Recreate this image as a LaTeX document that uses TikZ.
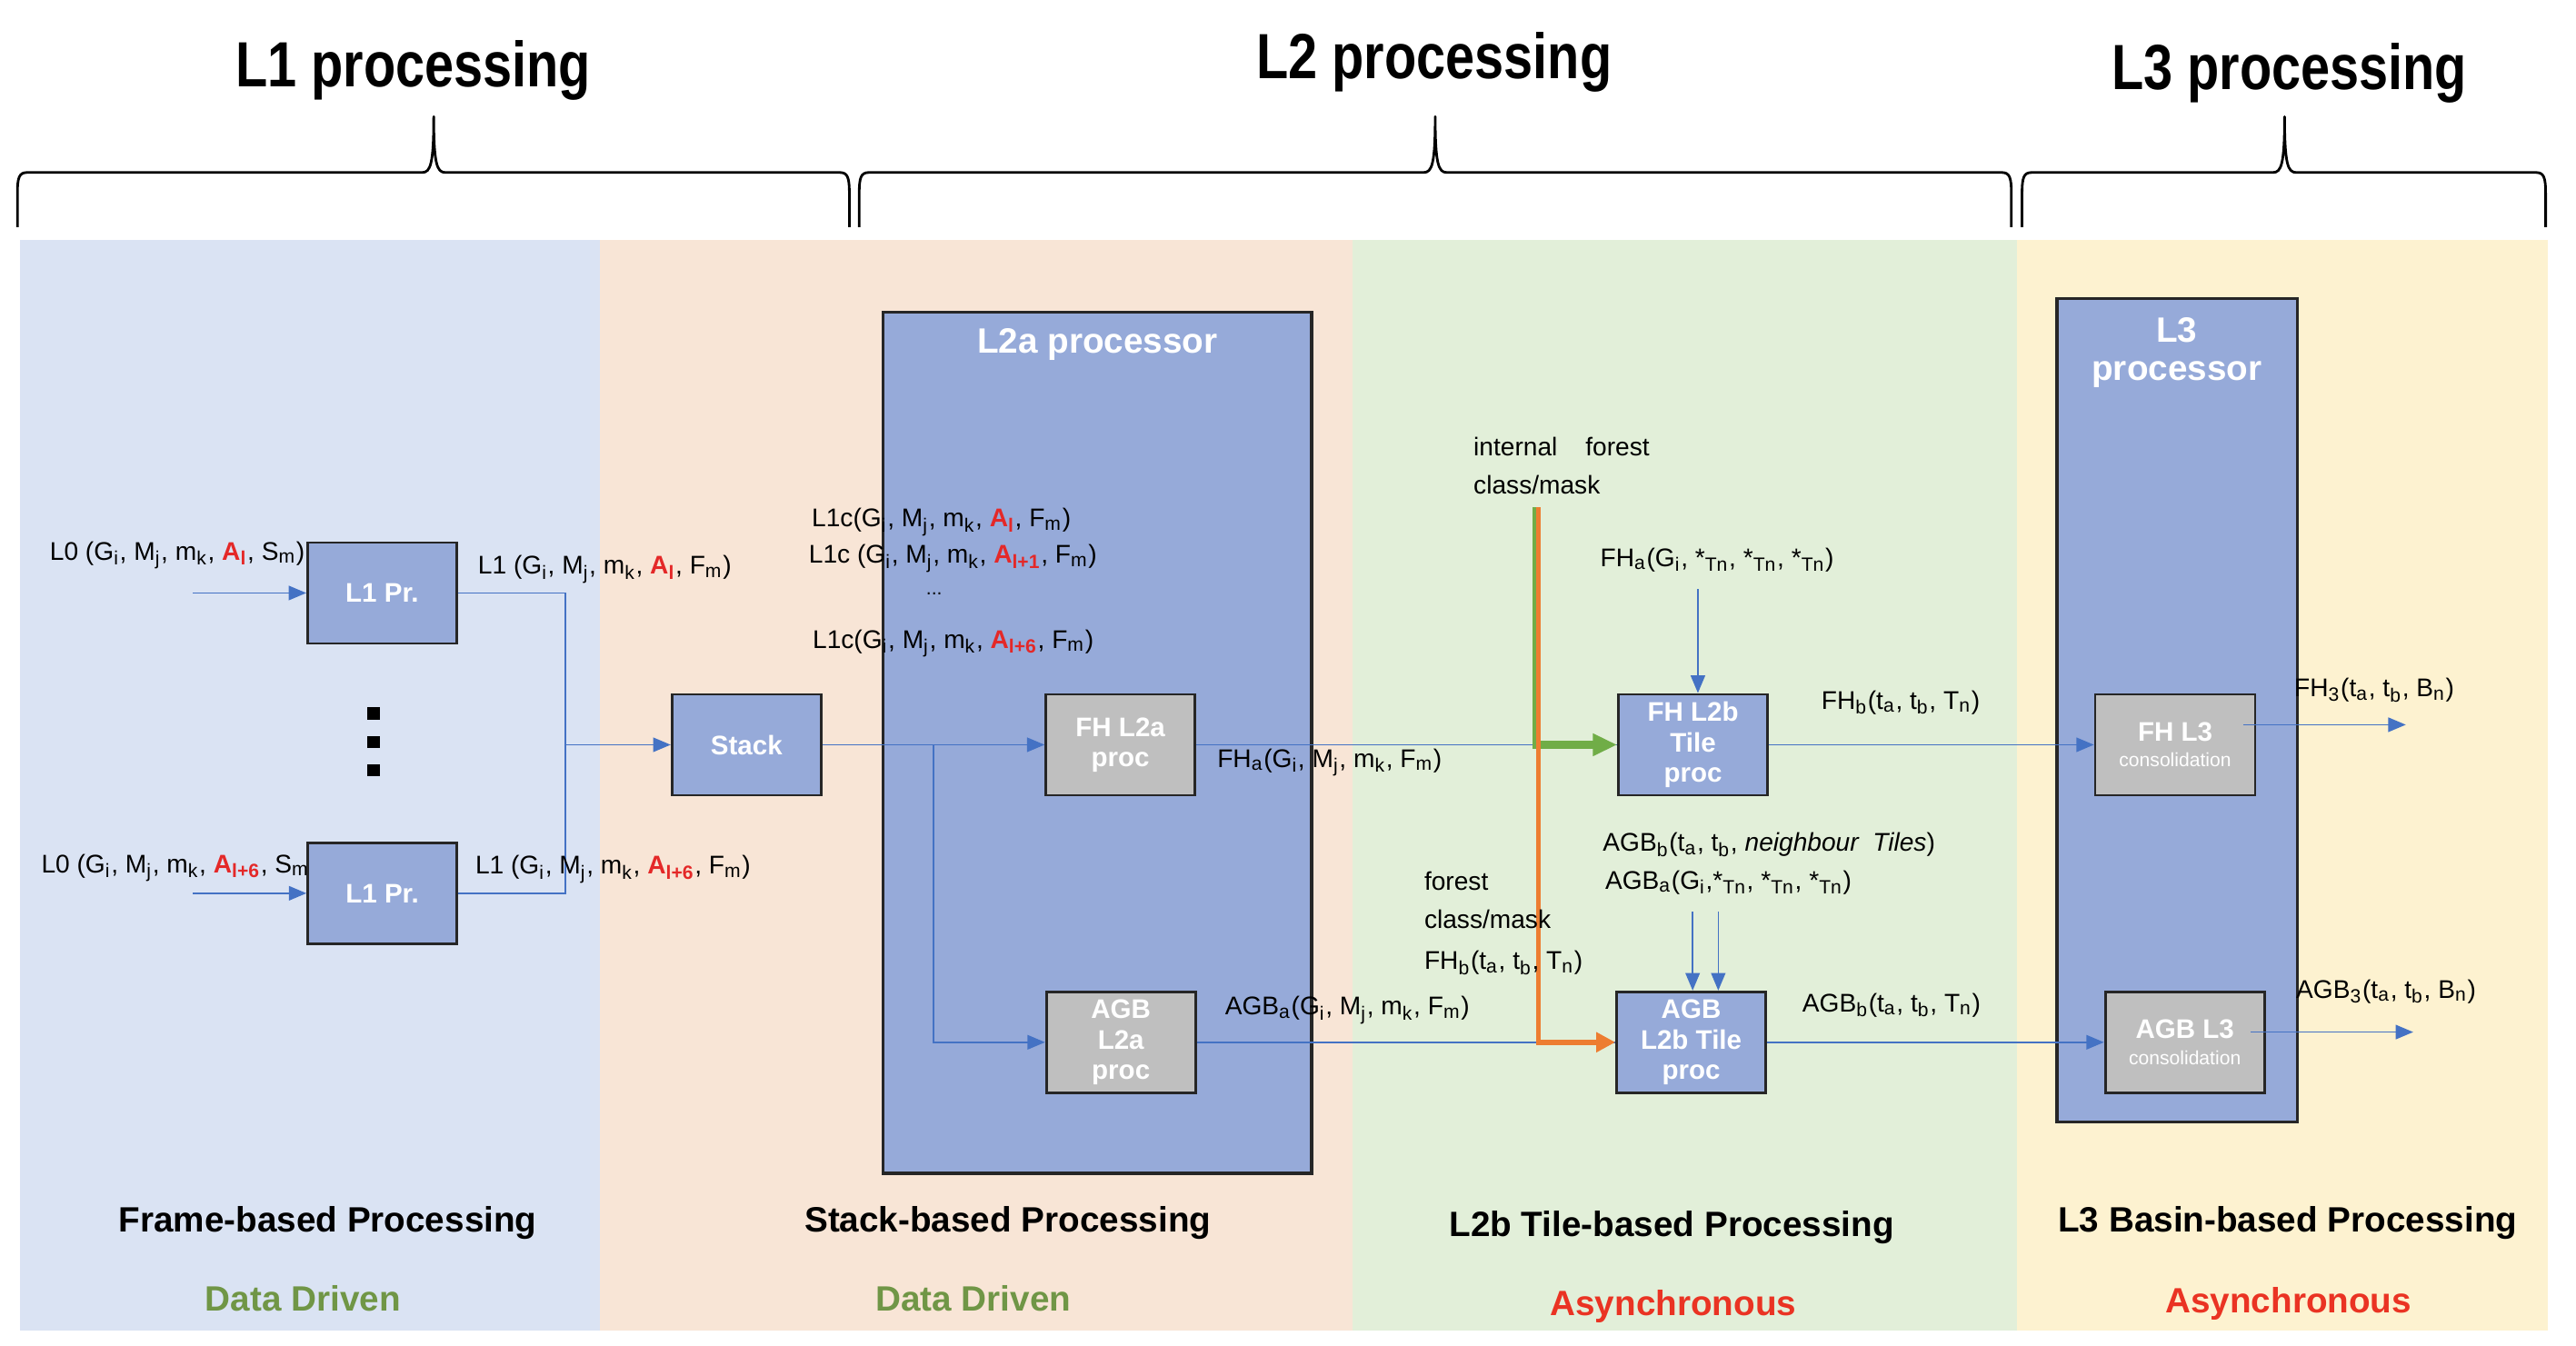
\documentclass[tikz,border=0pt]{standalone}
\usepackage{fontspec}
\setmainfont{Liberation Sans}
\newfontfamily\narrowfont[FakeStretch=0.82]{Liberation Sans}
\usepackage{xcolor}
\usetikzlibrary{arrows.meta,
                positioning}

\definecolor{bandone}{RGB}{218,227,243}
\definecolor{bandtwo}{RGB}{248,229,214}
\definecolor{bandthree}{RGB}{226,239,217}
\definecolor{bandfour}{RGB}{253,242,208}
\definecolor{procblue}{RGB}{150,170,217}
\definecolor{procgray}{RGB}{191,191,191}
\definecolor{flowblue}{RGB}{68,114,196}
\definecolor{maskorange}{RGB}{237,125,49}
\definecolor{maskgreen}{RGB}{112,173,71}
\definecolor{alred}{RGB}{228,40,40}
\definecolor{drivengreen}{RGB}{112,150,70}
\definecolor{asyncred}{RGB}{234,51,35}

\newcommand{\hlA}[1]{{\color{alred}\bfseries A\textsubscript{#1}}}

\begin{document}
\begin{tikzpicture}[
        x=0.018074cm, y=-0.018074cm,
        box/.style={draw=black!85, line width=0.8pt, fill=procblue, text=white, align=center,
                    font=\fontsize{8.4}{9.5}\selectfont\bfseries, inner sep=1pt,
                    minimum width=1.64cm, minimum height=1.11cm},
        graybox/.style={box, fill=procgray},
        bigbox/.style={draw=black!85, line width=1pt, fill=procblue, inner sep=0pt},
        bigtitle/.style={text=white, font=\fontsize{11}{12}\selectfont\bfseries, align=center, anchor=base, inner sep=0pt},
        lbl/.style={anchor=base west, inner sep=0pt, font=\fontsize{8}{10}\selectfont},
        heading/.style={anchor=base, inner sep=0pt, font=\narrowfont\bfseries\fontsize{20}{24}\selectfont},
        phase/.style={anchor=base, inner sep=0pt, font=\fontsize{11}{13}\selectfont\bfseries},
        flow/.style={flowblue, line width=0.5pt},
        flowarr/.style={flow, -{Triangle[length=5.5pt,width=4.5pt]}},
        curlyline/.style={line width=0.8pt, line join=round}
        ]

        \useasboundingbox (0,0) rectangle (1568,819);

        % Bands
        \fill[bandone] (12,146) rectangle (365,810);
        \fill[bandtwo] (365,146) rectangle (823.4,810);
        \fill[bandthree] (823.4,146) rectangle (1227.5,810);
        \fill[bandfour] (1227.5,146) rectangle (1550.7,810);

        % Braces
        \foreach \xa/\xp/\xb in {10.6/264/517, 523/873.6/1224.3, 1230.8/1390.6/1549.5}
            \draw[curlyline] (\xa,138.3) -- (\xa,118) .. controls (\xa,108) and (\xa+1,105) .. (\xa+6,105)
                -- (\xp-7,105) .. controls (\xp-2,105) and (\xp,100) .. (\xp,71)
                .. controls (\xp,100) and (\xp+2,105) .. (\xp+7,105)
                -- (\xb-6,105) .. controls (\xb-1,105) and (\xb,108) .. (\xb,118) -- (\xb,138.3);

        \node[heading] (lonehead) at (251.5,52.6) {L1 processing};
        \node[heading] (ltwohead) at (873,47.6) {L2 processing};
        \node[heading] (lthreehead) at (1393.5,54.4) {L3 processing};

        % Processors
        \node[bigbox, minimum width=4.712cm, minimum height=9.469cm] (ltwoa) at (668,452.2) {};
        \node[bigbox, minimum width=2.646cm, minimum height=9.06cm] (lthree) at (1325.2,432.4) {};
        \node[bigtitle] (ltwoatitle) at (668,215.2) {L2a processor};
        \node[bigtitle] (lthreetitle) at (1325,231.4) {L3\\processor};

        \node[lbl] (lzerobot) at (24.8,531.2) {L0 (G\textsubscript{i}, M\textsubscript{j}, m\textsubscript{k}, \hlA{l+6}, S\textsubscript{m})};

        % Nodes
        \node[box] (lonetop) at (232.6,361) {L1 Pr.};
        \node[box] (lonebot) at (232.7,543.8) {L1 Pr.};
        \node[box] (stack) at (454.4,453.4) {Stack};
        \node[graybox] (fhltwoa) at (682,453.4) {FH L2a\\proc};
        \node[graybox] (agbltwoa) at (682.3,634.5) {AGB\\L2a\\proc};
        \node[box] (fhltwob) at (1030.5,453.4) {FH L2b\\Tile\\proc};
        \node[box] (agbltwob) at (1029.4,634.5) {AGB\\L2b Tile\\proc};
        \node[graybox, minimum width=1.759cm] (fhlthree) at (1324,453.4) {FH L3\\[-1.5pt]{\fontsize{6}{7}\selectfont\mdseries consolidation}};
        \node[graybox, minimum width=1.751cm] (agblthree) at (1329.9,634.5) {AGB L3\\[-1.5pt]{\fontsize{6}{7}\selectfont\mdseries consolidation}};

        \foreach \dy in {434.3,451.9,468.8}
            \fill (223.7,\dy-3.7) rectangle ++(7.4,7.4);

        % Arrows
        \coordinate (inone) at (117.5,361);
        \coordinate (intwo) at (117.5,543.8);
        \coordinate (merge) at (344,453.4);
        \coordinate (split) at (568.3,453.4);
        \draw[flowarr] (inone) -- (lonetop);
        \draw[flowarr] (intwo) -- (lonebot);
        \draw[flow] (lonetop.east) -| (merge);
        \draw[flow] (lonebot.east) -| (merge);
        \draw[flowarr] (merge) -- (stack);
        \draw[flowarr] (stack) -- (fhltwoa);
        \draw[flowarr] (split) |- (agbltwoa);
        \draw[flow] (fhltwoa) -- (fhltwob);
        \draw[flow] (agbltwoa) -- (agbltwob);

        \coordinate (masktop) at (935.3,309);
        \coordinate (forestmask) at (936.4,309);
        \draw[maskgreen, line width=2.6pt, -{Triangle[length=7.6pt,width=6.6pt]}] (masktop) |- (fhltwob);
        \draw[maskorange, line width=1.6pt, -{Triangle[length=6pt,width=6pt]}] (forestmask) |- (agbltwob);

        \draw[flowarr] (fhltwob) -- (fhlthree);
        \draw[flowarr] (agbltwob) -- (agblthree);

        \coordinate (fhain) at (1033.5,358.7);
        \coordinate (agbbin) at (1030.3,555.1);
        \coordinate (agbain) at (1045.9,555.1);
        \draw[flowarr] (fhain) -- (fhain |- fhltwob.north);
        \draw[flowarr] (agbbin) -- (agbbin |- agbltwob.north);
        \draw[flowarr] (agbain) -- (agbain |- agbltwob.north);

        \coordinate (fhout) at (1464.4,441.2);
        \coordinate (agbout) at (1468.9,628.3);
        \draw[flowarr] (fhlthree.east |- fhout) ++(-8,0) -- (fhout);
        \draw[flowarr] (agblthree.east |- agbout) ++(-9,0) -- (agbout);

        % Labels
        \node[lbl] (lzerotop) at (30,341) {L0 (G\textsubscript{i}, M\textsubscript{j}, m\textsubscript{k}, \hlA{l}, S\textsubscript{m})};
        \node[lbl] (lonetoplbl) at (290.6,349.5) {L1 (G\textsubscript{i}, M\textsubscript{j}, m\textsubscript{k}, \hlA{l}, F\textsubscript{m})};
        \node[lbl] (lonebotlbl) at (289,532) {L1 (G\textsubscript{i}, M\textsubscript{j}, m\textsubscript{k}, \hlA{l+6}, F\textsubscript{m})};
        \node[lbl] (lonecfirst) at (493.8,320.9) {L1c(G\textsubscript{i}, M\textsubscript{j}, m\textsubscript{k}, \hlA{l}, F\textsubscript{m})};
        \node[lbl] (lonecsecond) at (492,343) {L1c (G\textsubscript{i}, M\textsubscript{j}, m\textsubscript{k}, \hlA{l+1}, F\textsubscript{m})};
        \node[lbl, anchor=base] (lonecdots) at (568.6,362) {\fontsize{6}{7}\selectfont...};
        \node[lbl] (lonecsixth) at (494.3,394.7) {L1c(G\textsubscript{i}, M\textsubscript{j}, m\textsubscript{k}, \hlA{l+6}, F\textsubscript{m})};
        \node[lbl] (fhalbl) at (740.6,467) {FH\textsubscript{a}(G\textsubscript{i}, M\textsubscript{j}, m\textsubscript{k}, F\textsubscript{m})};
        \node[lbl] (agbalbl) at (745.3,617.8) {AGB\textsubscript{a}(G\textsubscript{i}, M\textsubscript{j}, m\textsubscript{k}, F\textsubscript{m})};
        \node[lbl] (internallbl) at (896.6,277.6) {internal\hspace{1.1em}forest};
        \node[lbl] (classlbl) at (896.6,300.6) {class/mask};
        \node[lbl] (fhatilelbl) at (973.7,344.9) {FH\textsubscript{a}(G\textsubscript{i}, *\textsubscript{Tn}, *\textsubscript{Tn}, *\textsubscript{Tn})};
        \node[lbl] (fhblbl) at (1108.3,431.6) {FH\textsubscript{b}(t\textsubscript{a}, t\textsubscript{b}, T\textsubscript{n})};
        \node[lbl] (agbneighlbl) at (975.3,518.2) {AGB\textsubscript{b}(t\textsubscript{a}, t\textsubscript{b}, \textit{neighbour\ \ Tiles})};
        \node[lbl] (agbatilelbl) at (976.7,541.3) {AGB\textsubscript{a}(G\textsubscript{i},*\textsubscript{Tn}, *\textsubscript{Tn}, *\textsubscript{Tn})};
        \node[lbl] (forestlbl) at (866.6,542.2) {forest};
        \node[lbl] (forestclasslbl) at (866.6,565.3) {class/mask};
        \node[lbl] (fhbinlbl) at (866.6,590.2) {FH\textsubscript{b}(t\textsubscript{a}, t\textsubscript{b}, T\textsubscript{n})};
        \node[lbl] (agbblbl) at (1096.7,616) {AGB\textsubscript{b}(t\textsubscript{a}, t\textsubscript{b}, T\textsubscript{n})};
        \node[lbl] (fhthreelbl) at (1396.2,424.2) {FH\textsubscript{3}(t\textsubscript{a}, t\textsubscript{b}, B\textsubscript{n})};
        \node[lbl] (agbthreelbl) at (1397.3,607.7) {AGB\textsubscript{3}(t\textsubscript{a}, t\textsubscript{b}, B\textsubscript{n})};

        % Phases
        \node[phase] (framelbl) at (199.5,750) {Frame-based Processing};
        \node[phase] (stacklbl) at (613.5,750) {Stack-based Processing};
        \node[phase] (tilelbl) at (1017.5,753) {L2b Tile-based Processing};
        \node[phase] (basinlbl) at (1392.5,750) {L3 Basin-based Processing};
        \node[phase, text=drivengreen] (drivenone) at (184.5,798) {Data Driven};
        \node[phase, text=drivengreen] (driventwo) at (592.5,798) {Data Driven};
        \node[phase, text=asyncred] (asyncone) at (1018.5,801) {Asynchronous};
        \node[phase, text=asyncred] (asynctwo) at (1393,799) {Asynchronous};

        \end{tikzpicture}
\end{document}
